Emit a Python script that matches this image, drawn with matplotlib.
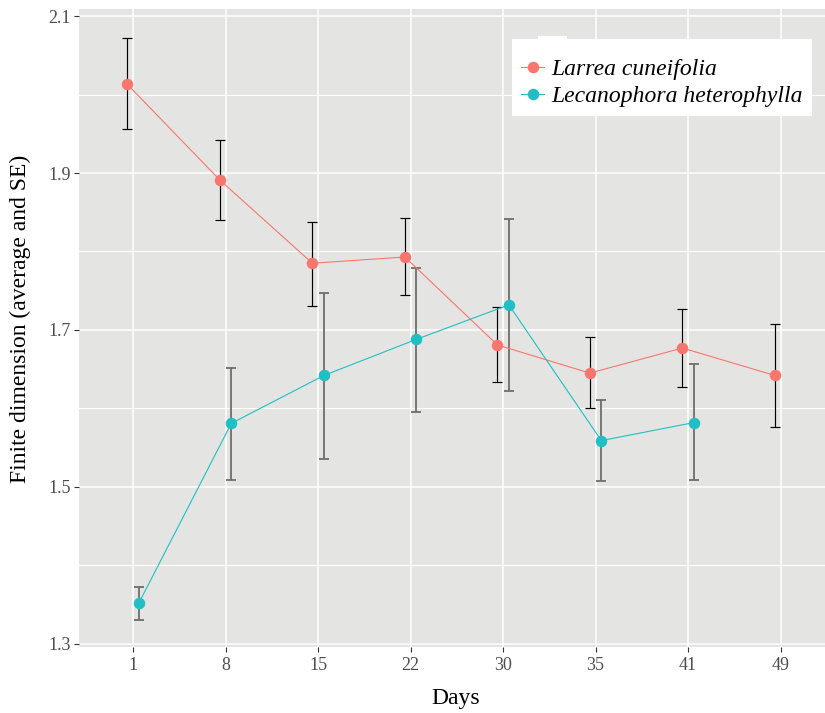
import matplotlib
matplotlib.use("Agg")
import matplotlib.pyplot as plt
from matplotlib.lines import Line2D
from matplotlib.patches import Rectangle
import numpy as np

plt.rcParams['font.family'] = ['Liberation Serif', 'DejaVu Serif']

days = ["1", "8", "15", "22", "30", "35", "41", "49"]

larrea_mean = [2.013, 1.891, 1.785, 1.793, 1.681, 1.645, 1.677, 1.642]
larrea_hi   = [2.072, 1.942, 1.838, 1.843, 1.729, 1.691, 1.727, 1.707]
larrea_lo   = [1.956, 1.840, 1.731, 1.744, 1.634, 1.600, 1.627, 1.576]

leca_mean = [1.352, 1.581, 1.642, 1.688, 1.732, 1.559, 1.582]
leca_hi   = [1.373, 1.651, 1.747, 1.779, 1.841, 1.611, 1.656]
leca_lo   = [1.331, 1.509, 1.536, 1.596, 1.622, 1.508, 1.509]

red = "#F8766D"
teal = "#1FBFC3"

W, H = 825, 713
fig = plt.figure(figsize=(W / 100, H / 100), dpi=100)
ax = fig.add_axes([79 / W, 1 - 647 / H, 1 - 79 / W, (647 - 9) / H])
ax.set_facecolor("#E4E5E2")

xs = np.arange(len(days))
d = 0.062
xl = xs - d
xc = xs[:len(leca_mean)] + d

lm = np.array(larrea_mean)
cm = np.array(leca_mean)

ax.errorbar(xc, cm, yerr=[cm - np.array(leca_lo), np.array(leca_hi) - cm],
            fmt='none', ecolor="#6E6E6E", elinewidth=1.3, capsize=3.6,
            capthick=1.3, zorder=3)
ax.errorbar(xl, lm, yerr=[lm - np.array(larrea_lo), np.array(larrea_hi) - lm],
            fmt='none', ecolor="black", elinewidth=0.85, capsize=3.6,
            capthick=0.85, zorder=3)
ax.plot(xl, lm, color=red, lw=0.8, zorder=4)
ax.plot(xc, cm, color=teal, lw=0.8, zorder=4)
ax.plot(xl, lm, 'o', color=red, ms=8.3, mec='none', zorder=5)
ax.plot(xc, cm, 'o', color=teal, ms=8.3, mec='none', zorder=5)

ax.set_xlim(-0.585, 7.48)
ax.set_ylim(1.296, 2.109)
ax.set_xticks(xs)
ax.set_xticklabels(days)
ax.set_yticks([1.3, 1.5, 1.7, 1.9, 2.1])
ax.set_yticklabels(["1.3", "1.5", "1.7", "1.9", "2.1"])
ax.set_yticks([1.4, 1.6, 1.8, 2.0], minor=True)

ax.grid(which='major', color='white', lw=1.1, zorder=0)
ax.grid(which='minor', axis='y', color='white', lw=0.8, zorder=0)
ax.set_axisbelow(True)
for s in ax.spines.values():
    s.set_visible(False)
ax.tick_params(axis='both', which='major', length=3.5, width=0.8,
               color='#333333', labelcolor='#4D4D4D', labelsize=13, pad=2.5)
ax.tick_params(axis='x', which='major', pad=3.5)
ax.tick_params(axis='y', which='minor', length=0)

ax.set_xlabel("Days", fontsize=17)
ax.set_ylabel("Finite dimension (average and SE)", fontsize=17)
ax.xaxis.set_label_coords((456 - 79) / 746, -(688 - 647) / 638)
ax.yaxis.set_label_coords(-(79 - 31) / 746, (647 - 319) / 638)

handles = [
    Line2D([], [], color=red, lw=0.8, marker='o', ms=8.3, mec='none'),
    Line2D([], [], color=teal, lw=0.8, marker='o', ms=8.3, mec='none'),
]
leg = fig.legend(handles, ["Larrea cuneifolia", "Lecanophora heterophylla"],
                 loc='upper left', bbox_to_anchor=(512 / W, 1 - 39 / H),
                 frameon=True, fancybox=False, borderaxespad=0,
                 prop={'style': 'italic', 'size': 17},
                 title=" ", title_fontsize=4,
                 handlelength=0.95, handletextpad=0.32, labelspacing=0.22,
                 borderpad=0.4)
leg.get_frame().set_facecolor('white')
leg.get_frame().set_edgecolor('none')
leg.get_frame().set_alpha(1)

fig.patches.append(Rectangle((538 / W, 1 - 39 / H), 29 / W, 3 / H,
                             transform=fig.transFigure, facecolor='white',
                             edgecolor='none', zorder=1))

fig.savefig("out.png", dpi=100)
